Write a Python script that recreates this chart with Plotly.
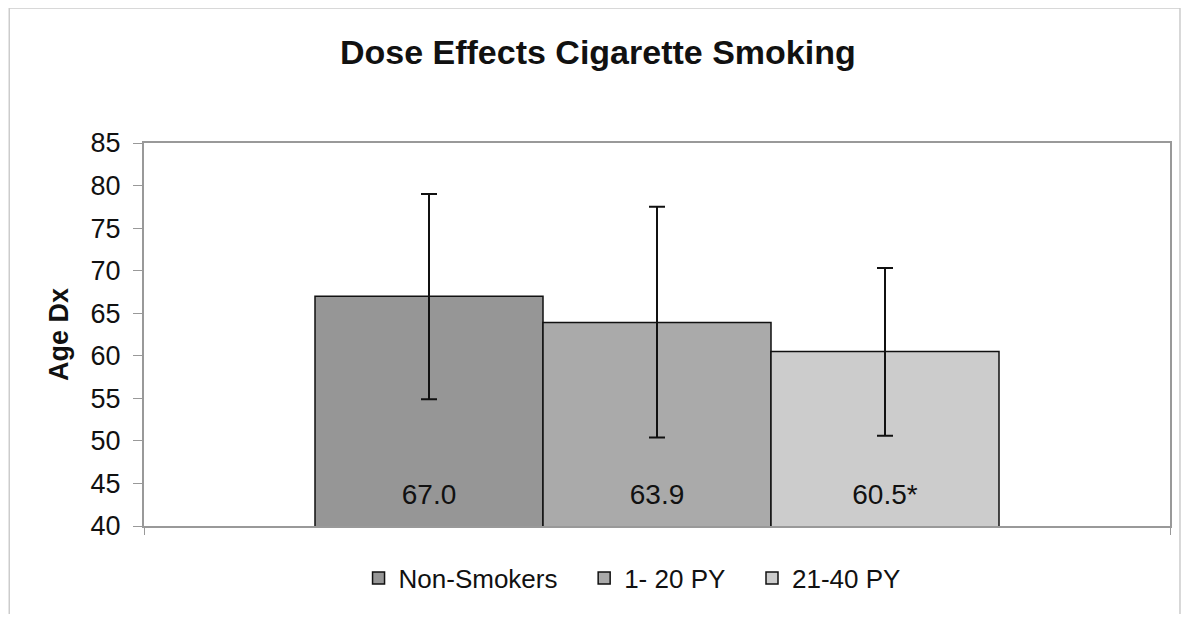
import plotly.graph_objects as go

categories = ["Non-Smokers", "1- 20 PY", "21-40 PY"]
means = [67.0, 63.9, 60.5]
labels = ["67.0", "63.9", "60.5*"]
err_plus = [12.0, 13.6, 9.8]
err_minus = [12.1, 13.5, 9.9]
colors = ["#969696", "#aaaaaa", "#cccccc"]
y_ticks = [40, 45, 50, 55, 60, 65, 70, 75, 80, 85]

FONT = "Arial, Liberation Sans, sans-serif"
LABEL_Y = 43.4  # vertical placement of value labels inside bars
PAD = "\u00a0" * 3  # extra spacing between legend entries

W, H = 1175, 606
ML, MR, MT, MB = 136, 11, 135, 88
PW, PH = W - ML - MR, H - MT - MB

fig = go.Figure()
n = len(categories)
for i, (name, m, ep, em, c) in enumerate(zip(categories, means, err_plus, err_minus, colors)):
    fig.add_trace(go.Bar(
        x=[i], y=[m], name=name + (PAD if i < n - 1 else ""), width=1,
        marker=dict(color=c, line=dict(color="#111111", width=1.5)),
        error_y=dict(type="data", symmetric=False, array=[ep], arrayminus=[em],
                     color="#111111", thickness=2, width=8),
    ))

fig.add_trace(go.Scatter(
    x=list(range(n)), y=[LABEL_Y] * n,
    mode="text", text=labels, textposition="middle center",
    textfont=dict(family=FONT, size=28, color="#111111"),
    showlegend=False, hoverinfo="skip",
))

fig.update_layout(
    width=W, height=H,
    margin=dict(l=ML, r=MR, t=MT, b=MB),
    paper_bgcolor="white", plot_bgcolor="white",
    barmode="overlay",
    font=dict(family=FONT, color="#111111"),
    title=dict(text="<b>Dose Effects Cigarette Smoking</b>", x=0.502, xanchor="center",
               y=1 - 44 / H, yanchor="middle", yref="container",
               font=dict(family=FONT, size=34, color="#111111")),
    showlegend=True,
    legend=dict(orientation="h", x=(625 - ML) / PW, xanchor="center",
                y=(PH + MT - 570) / PH, yanchor="middle",
                font=dict(family=FONT, size=26, color="#111111"),
                tracegroupgap=0, traceorder="normal"),
)
fig.update_yaxes(range=[40, 85], tickvals=y_ticks, ticks="outside", ticklen=9,
                 tickcolor="#999999", showgrid=False, zeroline=False,
                 showline=True, linecolor="#999999", linewidth=2, mirror=True,
                 ticklabelstandoff=7,
                 tickfont=dict(family=FONT, size=27, color="#111111"),
                 title=dict(text="<b>Age Dx</b>", standoff=14,
                            font=dict(family=FONT, size=27, color="#111111")))
fig.update_xaxes(range=[-1.25, 3.25], tickvals=[-1.25, 3.25], showticklabels=False,
                 ticks="outside", ticklen=7,
                 tickcolor="#999999", showgrid=False, zeroline=False,
                 showline=True, linecolor="#999999", linewidth=2, mirror=True)

# outer chart frame
fig.add_shape(type="rect", xref="paper", yref="paper",
              x0=(1 - ML) / PW, x1=(W - 1 - ML) / PW,
              y0=(PH + MT - 700) / PH, y1=(PH + MT - 0) / PH,
              line=dict(color="#cccccc", width=1.5), layer="below")

fig.write_html("out.html")
